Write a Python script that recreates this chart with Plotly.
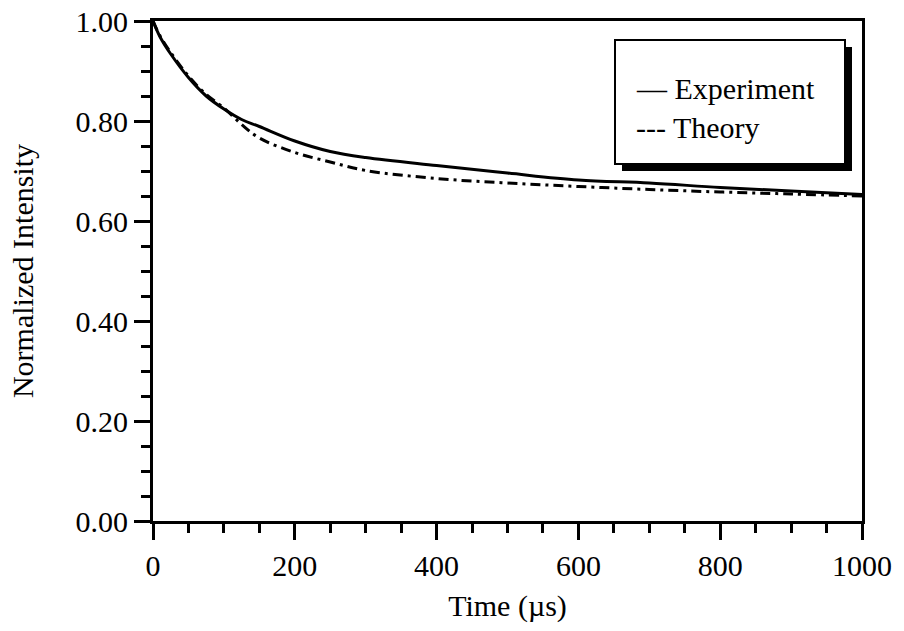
import plotly.graph_objects as go

time_us = [0, 10, 25, 50, 75, 100, 125, 150, 200, 250, 300, 400, 500, 600, 700, 800, 900, 1000]
experiment = [1.000, 0.968, 0.934, 0.887, 0.850, 0.824, 0.803, 0.789, 0.760, 0.739, 0.727,
              0.711, 0.696, 0.682, 0.676, 0.667, 0.660, 0.653]
theory = [1.000, 0.970, 0.937, 0.890, 0.853, 0.826, 0.793, 0.766, 0.737, 0.718, 0.701,
          0.685, 0.676, 0.669, 0.663, 0.658, 0.654, 0.650]

x_ticks = [0, 200, 400, 600, 800, 1000]
y_ticks = [0.0, 0.2, 0.4, 0.6, 0.8, 1.0]

FONT = "Liberation Serif, Times New Roman, serif"

fig = go.Figure()
fig.add_trace(go.Scatter(x=time_us, y=theory, mode="lines", name="Theory",
                         line=dict(color="black", width=3, dash="10px,5px,3px,5px", shape="spline"),
                         showlegend=False))
fig.add_trace(go.Scatter(x=time_us, y=experiment, mode="lines", name="Experiment",
                         line=dict(color="black", width=3, shape="spline"),
                         showlegend=False))

# legend box with drop shadow (paper coordinates relative to plot area)
px2x = lambda p: (p - 153) / 709
py2y = lambda p: (521 - p) / 500
fig.add_shape(type="rect", xref="paper", yref="paper",
              x0=px2x(622), x1=px2x(852), y0=py2y(171), y1=py2y(47),
              fillcolor="black", line=dict(width=0), layer="above")
fig.add_shape(type="rect", xref="paper", yref="paper",
              x0=px2x(615), x1=px2x(845), y0=py2y(164), y1=py2y(40),
              fillcolor="white", line=dict(color="black", width=2), layer="above")
fig.add_annotation(xref="paper", yref="paper", x=px2x(634), y=py2y(88),
                   text="— Experiment", showarrow=False, xanchor="left", yanchor="middle",
                   font=dict(family=FONT, size=30, color="black"))
fig.add_annotation(xref="paper", yref="paper", x=px2x(634), y=py2y(128),
                   text="--- Theory", showarrow=False, xanchor="left", yanchor="middle",
                   font=dict(family=FONT, size=30, color="black"))

fig.update_layout(
    width=904, height=631,
    margin=dict(l=153, r=42, t=21, b=110),
    paper_bgcolor="white", plot_bgcolor="white",
    font=dict(family=FONT, size=30, color="black"),
)
fig.update_xaxes(
    range=[0, 1000], tickvals=x_ticks, ticktext=[str(v) for v in x_ticks],
    automargin=False,
    showgrid=False, zeroline=False,
    showline=True, linecolor="black", linewidth=3, mirror=True,
    ticks="outside", ticklen=16, tickwidth=3, tickcolor="black",
    minor=dict(dtick=50, ticks="outside", ticklen=9, tickwidth=3, tickcolor="black", showgrid=False),
    tickfont=dict(family=FONT, size=30),
    title=dict(text="Time (µs)", font=dict(family=FONT, size=30), standoff=14),
)
fig.update_yaxes(
    range=[0, 1.0], tickvals=y_ticks, ticktext=[f"{v:.2f}" for v in y_ticks],
    automargin=False,
    showgrid=False, zeroline=False,
    showline=True, linecolor="black", linewidth=3, mirror=True,
    ticks="outside", ticklen=16, tickwidth=3, tickcolor="black",
    minor=dict(dtick=0.05, ticks="outside", ticklen=9, tickwidth=3, tickcolor="black", showgrid=False),
    tickfont=dict(family=FONT, size=30),
    title=dict(text="Normalized Intensity", font=dict(family=FONT, size=30), standoff=34),
)

# remove the default 8px page margin so the figure fills the window exactly
fig.write_html("out.html", config={"displayModeBar": False},
               post_script="document.body.style.margin='0';document.body.style.overflow='hidden';")
